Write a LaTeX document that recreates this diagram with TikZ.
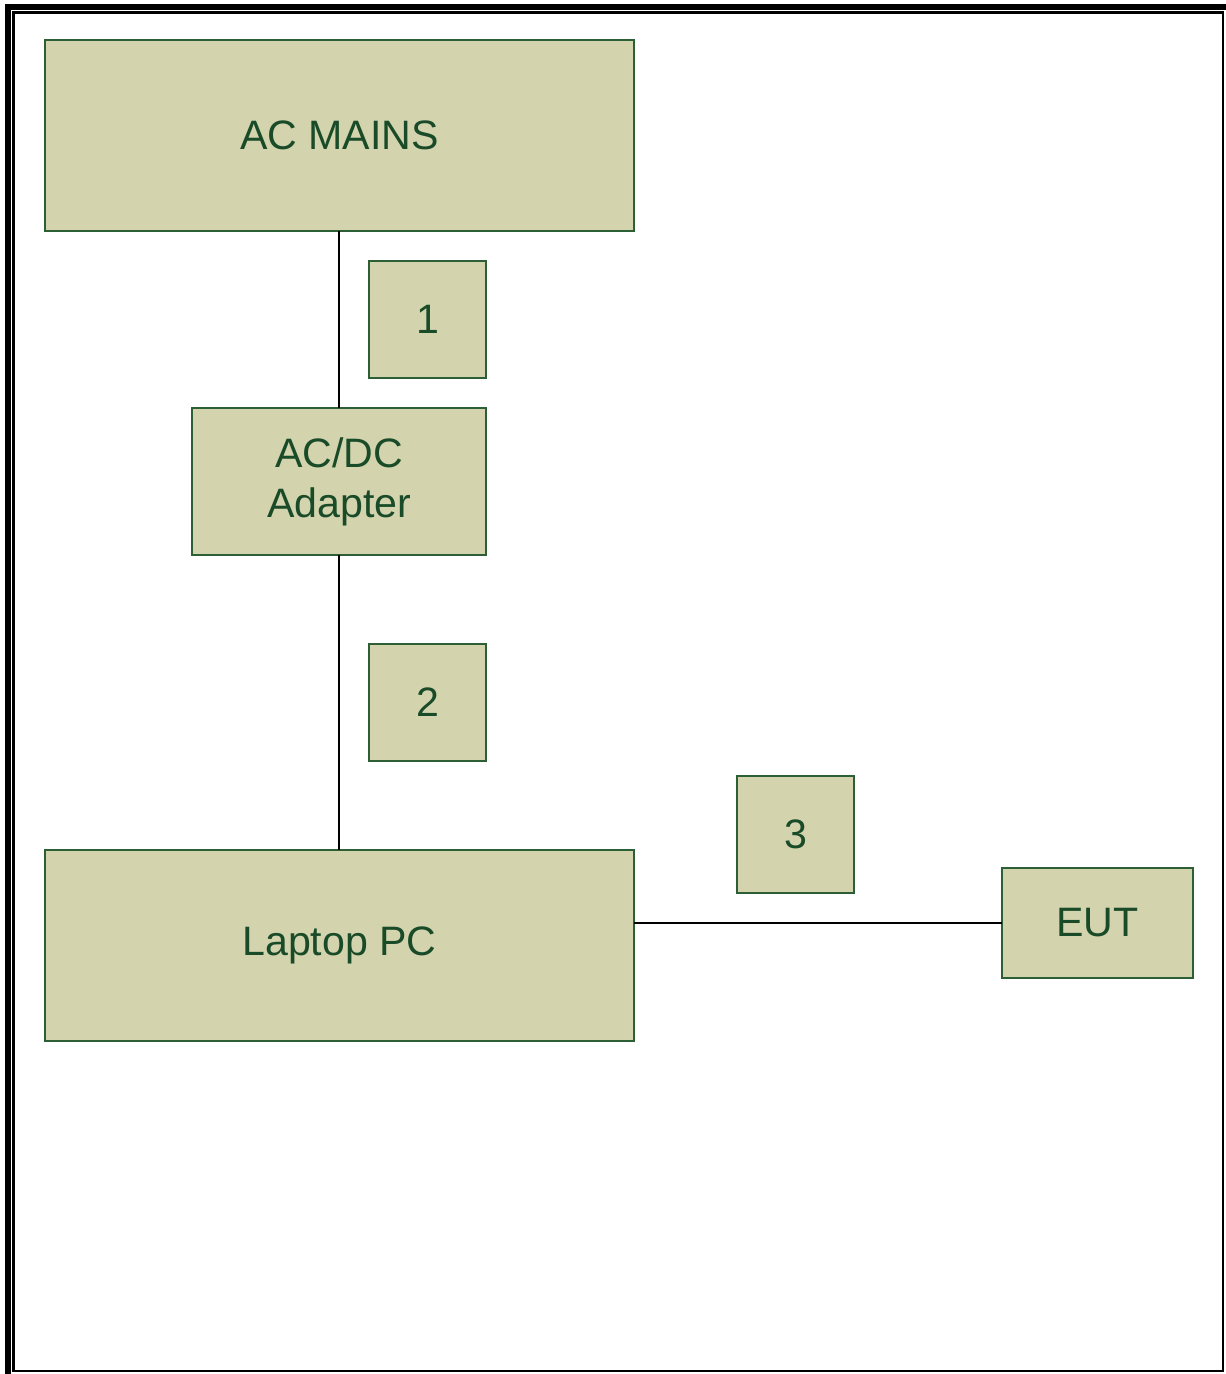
\documentclass[tikz,border=0pt]{standalone}
\usepackage{fontspec}
\setmainfont{Liberation Sans}
\usepackage{xcolor}
\usetikzlibrary{positioning, calc}
\definecolor{boxfill}{RGB}{211,211,173}
\definecolor{boxline}{RGB}{45,95,55}
\definecolor{boxtext}{RGB}{25,75,40}

\begin{document}
\begin{tikzpicture}[x=0.02cm, y=-0.02cm,
    block/.style={draw=boxline, fill=boxfill, line width=0.6pt, inner sep=0pt, outer sep=0pt,
        text=boxtext, align=center, font=\fontsize{23.4}{28.5}\selectfont},
    tag/.style={block, minimum width=117*0.02cm, minimum height=117*0.02cm},
    wire/.style={draw=black, line width=0.6pt}]
    \useasboundingbox (0,0) rectangle (1226,1374);

    % frame
    \fill[black] (5,4) rectangle (1226,10);
    \fill[black] (5,4) rectangle (11,1374);
    \draw[line width=1.3pt] (13.5,12.5) rectangle (1223,1371);

    % blocks
    \node[block, minimum width=589*0.02cm, minimum height=191*0.02cm] (mains) at (339.5,135.5) {AC MAINS};
    \node[tag] (one) at (427.5,319.5) {1};
    \node[block, minimum width=294*0.02cm, minimum height=147*0.02cm] (adapter) at (339,481.5) {AC/DC\\Adapter};
    \node[tag] (two) at (427.5,702.5) {2};
    \node[block, minimum width=589*0.02cm, minimum height=191*0.02cm] (laptop) at (339.5,945.5) {Laptop PC};
    \node[tag] (three) at (795.5,834.5) {3};
    \node[block, minimum width=191*0.02cm, minimum height=110*0.02cm] (eut) at (1097.5,923) {EUT};

    % cables
    \draw[wire] (adapter.north) -- (adapter.north |- mains.south);
    \draw[wire] (adapter.south) -- (adapter.south |- laptop.north);
    \draw[wire] (eut.west) -- (eut.west -| laptop.east);
\end{tikzpicture}
\end{document}
